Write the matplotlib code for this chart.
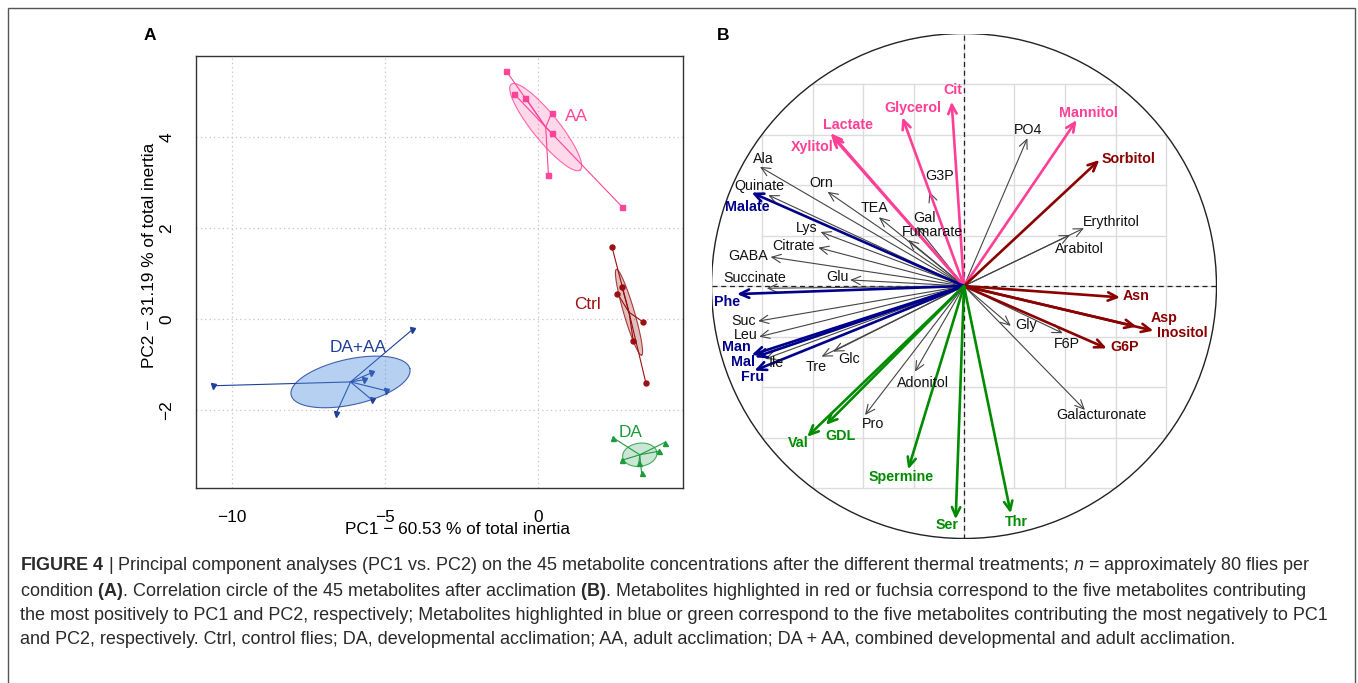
import numpy as np
import matplotlib
matplotlib.use("Agg")
import matplotlib.pyplot as plt
from matplotlib.patches import Polygon, Circle, Rectangle

plt.rcParams['font.family'] = ['Liberation Sans', 'DejaVu Sans']
plt.rcParams['mathtext.fontset'] = 'custom'
plt.rcParams['mathtext.rm'] = 'Liberation Sans'
plt.rcParams['mathtext.bf'] = 'Liberation Sans:bold'
plt.rcParams['mathtext.it'] = 'Liberation Sans:italic'

W, H = 1358, 683
fig = plt.figure(figsize=(W / 100, H / 100), dpi=100)
def fx(px): return px / W
def fy(py): return 1 - py / H

# ---------------- panel A: individuals (PC1 vs PC2)
aa_x = [-1.03, -0.79, -0.41, 0.45, 0.45, 0.34, 2.74]
aa_y = [5.45, 4.96, 4.87, 4.54, 4.09, 3.17, 2.47]
ctrl_x = [2.41, 2.59, 2.74, 3.44, 3.11, 3.52]
ctrl_y = [1.59, 0.56, 0.70, -0.07, -0.49, -1.41]
daaa_x = [-10.61, -4.11, -6.60, -5.45, -5.69, -4.95, -5.42]
daaa_y = [-1.47, -0.24, -2.10, -1.19, -1.34, -1.58, -1.78]
da_x = [2.44, 4.13, 3.95, 2.73, 3.38, 3.29]
da_y = [-2.61, -2.72, -2.91, -3.11, -3.40, -3.18]
# confidence ellipses: two conjugate semi-axes (PC1, PC2 units)
aa_ell = [(1.12, -0.946), (0.354, 0.167)]
ctrl_ell = [(0.41, -0.946), (0.169, 0.029)]
daaa_ell = [(1.935, 0.295), (0.186, -0.486)]
da_ell = [(0.56, 0.04), (-0.02, 0.255)]
group_names = ["AA", "Ctrl", "DA+AA", "DA"]
group_label_xy = [(1.25, 4.46), (1.62, 0.32), (-5.86, -0.63), (3.02, -2.50)]

groups = [
    (aa_x, aa_y, aa_ell, "#ff4499", "s"),
    (ctrl_x, ctrl_y, ctrl_ell, "#9b1111", "o"),
    (daaa_x, daaa_y, daaa_ell, "#1f3f99", "v"),
    (da_x, da_y, da_ell, "#1e9a3c", "^"),
]
ell_fill = ["#ff3e96", "#8b0000", "#4a8ae0", "#2ca05a"]
ell_alpha = [0.20, 0.25, 0.40, 0.25]

axa = fig.add_axes([fx(196), fy(488), (683.3 - 196) / W, 432 / H])
axa.set_xlim(-11.16, 4.74)
axa.set_ylim(-3.72, 5.787)
axa.set_xticks([-10, -5, 0])
axa.set_yticks([-2, 0, 2, 4])
axa.grid(True, color="#c4c4c4", linestyle=(0, (1, 2.5)), lw=0.9)
axa.set_axisbelow(True)
axa.tick_params(length=0, labelsize=12.4, pad=15.5)
for lab in axa.get_yticklabels():
    lab.set_rotation(90)
    lab.set_va("center")
for s in axa.spines.values():
    s.set_color("#333333")
    s.set_linewidth(1)

t = np.linspace(0, 2 * np.pi, 200)
for i, (xs, ys, ell, col, mk) in enumerate(groups):
    xs = np.asarray(xs); ys = np.asarray(ys)
    cx, cy = xs.mean(), ys.mean()
    for px, py in zip(xs, ys):
        axa.plot([cx, px], [cy, py], color=col, lw=0.8, zorder=2)
    axa.plot(xs, ys, mk, color=col, ms=3.6, zorder=2)
    (a1, a2), (b1, b2) = ell
    ex = cx + a1 * np.cos(t) + b1 * np.sin(t)
    ey = cy + a2 * np.cos(t) + b2 * np.sin(t)
    axa.add_patch(Polygon(np.column_stack([ex, ey]), closed=True,
                          facecolor=ell_fill[i], alpha=ell_alpha[i], edgecolor="none", zorder=3))
    axa.plot(ex, ey, color=col, lw=0.8, alpha=0.8, zorder=3)
    gx, gy = group_label_xy[i]
    axa.text(gx, gy, group_names[i], color=col, fontsize=12.4, ha="center", va="center", zorder=4)

fig.text(fx(457), fy(530), "PC1 \u2212 60.53 % of total inertia", fontsize=12.4,
         ha="center", va="center")
fig.text(fx(150), fy(255), "PC2 \u2212 31.19 % of total inertia", fontsize=12.4,
         ha="center", va="center", rotation=90)

# ---------------- panel B: correlation circle
var_names = ["Cit", "Glycerol", "Lactate", "Xylitol", "Mannitol",
             "Sorbitol", "Asn", "Asp", "Inositol", "G6P",
             "Malate", "Phe", "Man", "Mal", "Fru",
             "Val", "GDL", "Spermine", "Ser", "Thr",
             "Ala", "Quinate", "Orn", "TEA", "Gal", "Fumarate", "G3P", "Lys", "Citrate",
             "GABA", "Succinate", "Glu", "Suc", "Leu", "Ile", "Tre", "Glc", "Adonitol",
             "Pro", "PO4", "Erythritol", "Arabitol", "Gly", "F6P", "Galacturonate"]
var_pc1 = [-0.049, -0.244, -0.528, -0.523, 0.446,
           0.536, 0.618, 0.684, 0.750, 0.565,
           -0.841, -0.899, -0.841, -0.828, -0.830,
           -0.621, -0.547, -0.221, -0.033, 0.185,
           -0.808, -0.775, -0.540, -0.337, -0.187, -0.221, -0.137, -0.568, -0.577,
           -0.766, -0.781, -0.451, -0.815, -0.811, -0.788, -0.564, -0.518, -0.194,
           -0.392, 0.251, 0.475, 0.420, 0.185, 0.391, 0.479]
var_pc2 = [0.730, 0.668, 0.605, 0.594, 0.657,
           0.499, -0.045, -0.161, -0.177, -0.247,
           0.370, -0.032, -0.273, -0.282, -0.335,
           -0.597, -0.550, -0.726, -0.924, -0.900,
           0.472, 0.360, 0.373, 0.272, 0.235, 0.182, 0.373, 0.214, 0.152,
           0.115, -0.009, 0.024, -0.139, -0.201, -0.289, -0.280, -0.260, -0.339,
           -0.511, 0.585, 0.229, 0.202, -0.158, -0.187, -0.491]
var_group = ["pc2pos"] * 5 + ["pc1pos"] * 5 + ["pc1neg"] * 5 + ["pc2neg"] * 5 + ["other"] * 25

group_color = {"pc2pos": "#ff3e96", "pc1pos": "#8b0000", "pc1neg": "#00008b",
               "pc2neg": "#008b00", "other": "#444444"}
# label offsets from arrow tip, in pixels (right, up)
label_off = {
    "Cit": (1, 11.7), "Glycerol": (10.7, 9.6), "Lactate": (17, 8.3), "Xylitol": (-19.3, -10.7),
    "Mannitol": (11.6, 7.3), "Sorbitol": (29, 0.7), "Asn": (16, 1.6), "Asp": (27.3, 9),
    "Inositol": (29.4, -2.6), "G6P": (17.6, 1), "Malate": (-4, -14), "Phe": (-9.7, -8.3),
    "Man": (-15.7, 7.7), "Mal": (-12.3, -5), "Fru": (-1.6, -6), "Val": (-9, -6),
    "GDL": (14.7, -11), "Spermine": (-6.6, -7.4), "Ser": (-8.4, -5.7), "Thr": (6, -8.4),
    "Ala": (3.3, 7.4), "Quinate": (-9, 9.3), "Orn": (-6.7, 9), "TEA": (-4.7, 9.6),
    "Gal": (7.6, 8.4), "Fumarate": (24, 7.7), "G3P": (10.7, 15.7), "Lys": (-14, 3.7),
    "Citrate": (-25, 2), "GABA": (-22.4, 1.3), "Succinate": (-11.7, 10), "Glu": (-12.7, 2.7),
    "Suc": (-15, 0), "Leu": (-13.6, 1.7), "Ile": (11.7, -3.7), "Tre": (-5, -10),
    "Glc": (16, -7.6), "Adonitol": (8.3, -11.6), "Pro": (7.7, -9), "PO4": (1, 8.3),
    "Erythritol": (27.7, 6.6), "Arabitol": (9, -14), "Gly": (15, 1), "F6P": (4, -10.7),
    "Galacturonate": (16.7, -5),
}

R = 252.5
axb = fig.add_axes([fx(964 - R), fy(286 + R), 2 * R / W, 2 * R / H])
axb.set_xlim(-1, 1)
axb.set_ylim(-1, 1)
axb.axis("off")

for v in np.arange(-0.8, 0.81, 0.2):
    e = np.floor(np.sqrt(1 - v ** 2) / 0.2 + 1e-6) * 0.2
    axb.plot([-e, e], [v, v], color="#dcdcdc", lw=1, zorder=0)
    axb.plot([v, v], [-e, e], color="#dcdcdc", lw=1, zorder=0)
axb.plot([-1, 1], [0, 0], color="#222222", lw=0.9, linestyle=(0, (4, 3)), zorder=1)
axb.plot([0, 0], [-1, 1], color="#222222", lw=0.9, linestyle=(0, (4, 3)), zorder=1)
axb.add_patch(Circle((0, 0), 1, fill=False, edgecolor="#222222", lw=1, zorder=1))

order = [i for i in range(len(var_names)) if var_group[i] == "other"] + \
        [i for i in range(len(var_names)) if var_group[i] != "other"]
for i in order:
    g = var_group[i]
    col = group_color[g]
    hl = g != "other"
    axb.annotate("", xy=(var_pc1[i], var_pc2[i]), xytext=(0, 0),
                 arrowprops=dict(arrowstyle="->,head_length=0.65,head_width=0.3", color=col,
                                 lw=1.9 if hl else 0.8, shrinkA=0, shrinkB=0),
                 zorder=3 if hl else 2)
for i, name in enumerate(var_names):
    g = var_group[i]
    hl = g != "other"
    axb.annotate(name, xy=(var_pc1[i], var_pc2[i]), xytext=label_off[name],
                 textcoords="offset pixels", ha="center", va="center", fontsize=10.3,
                 color=group_color[g] if hl else "#111111",
                 fontweight="bold" if hl else "normal", zorder=4, annotation_clip=False)

# ---------------- panel letters, frame and caption
fig.text(fx(150), fy(35), "A", fontsize=12.5, fontweight="bold", ha="center", va="center")
fig.text(fx(723), fy(35), "B", fontsize=12.5, fontweight="bold", ha="center", va="center")
fig.add_artist(Rectangle((fx(8), -0.02), fx(1355) - fx(8), fy(8) + 0.02,
                         transform=fig.transFigure, fill=False, edgecolor="#555555", lw=1))

caption = [
    r"$\mathbf{FIGURE\ 4}$ | Principal component analyses (PC1 vs. PC2) on the 45 metabolite "
    r"concentrations after the different thermal treatments; $\mathit{n}$ = approximately 80 flies per",
    r"condition $\mathbf{(A)}$. Correlation circle of the 45 metabolites after acclimation "
    r"$\mathbf{(B)}$. Metabolites highlighted in red or fuchsia correspond to the five metabolites contributing",
    "the most positively to PC1 and PC2, respectively; Metabolites highlighted in blue or green "
    "correspond to the five metabolites contributing the most negatively to PC1",
    "and PC2, respectively. Ctrl, control flies; DA, developmental acclimation; AA, adult "
    "acclimation; DA + AA, combined developmental and adult acclimation.",
]
caption_y = [566, 591, 615, 640]
for line, y in zip(caption, caption_y):
    fig.text(fx(20), fy(y), line, fontsize=12.95, color="#2a2a2a", ha="left", va="center")

fig.savefig("out.png", dpi=100)
